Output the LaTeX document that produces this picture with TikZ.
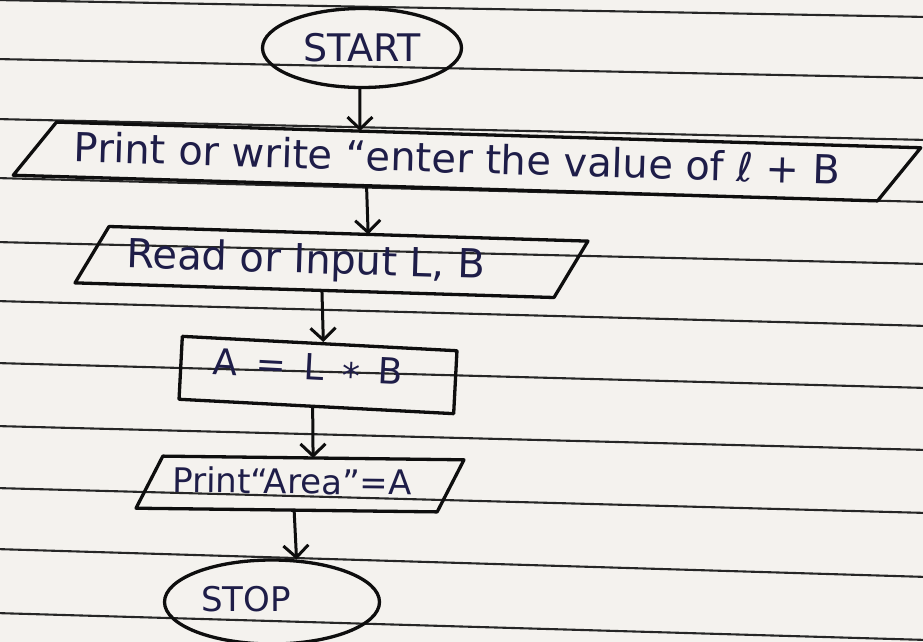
\documentclass[tikz,border=0pt]{standalone}
\usepackage{fontspec}
\setmainfont{DejaVu Sans}
\usetikzlibrary{calc,arrows.meta,shapes.geometric}

\definecolor{paper}{HTML}{F4F2EE}
\definecolor{rulecol}{HTML}{262626}
\definecolor{ink}{HTML}{0E0E0E}
\definecolor{pen}{HTML}{1E1D48}

\tikzset{
  ruling/.style={draw=rulecol, line width=2.1pt},
  outline/.style={draw=ink, line width=3.3pt, line join=round},
  terminal/.style={ellipse, outline, inner sep=0pt},
  process/.style={rectangle, outline, inner sep=0pt},
  iobox/.style={rectangle, inner sep=0pt},
  flow/.style={draw=ink, line width=3pt, line cap=round, -{Straight Barb[length=12pt,width=25pt]}},
  handtext/.style={text=pen, inner sep=0pt, font=\fontsize{#1}{#1}\selectfont},
}

% outline of an input/output box: the slant takes fraction #2 of the node width
\newcommand\slantbox[2]{%
  \draw[outline] ($(#1.north west)!#2!(#1.north east)$) -- (#1.north east)
    -- ($(#1.south east)!#2!(#1.south west)$) -- (#1.south west) -- cycle;}

\begin{document}
\begin{tikzpicture}[x=1pt,y=-1pt]
  \useasboundingbox (0,0) rectangle (923,642);
  \clip (0,0) rectangle (923,642);
  \fill[paper] (0,0) rectangle (923,642);

  % ruled notebook lines
  \foreach \yl/\yr in {0/17,59/78,119/140,178/202,242/264,301/326,363/388,426/450,488/513,549/577,613/640}
    \draw[ruling] (-5,\yl) -- (928,\yr);

  % shapes
  \node[terminal, minimum width=199pt, minimum height=79pt] (start) at (362,48) {};
  \node[iobox, minimum width=906pt, minimum height=54pt, rotate=-1.7] (p1) at (467,161.5) {};
  \node[iobox, minimum width=511pt, minimum height=57pt, rotate=-1.75] (p2) at (331.5,262) {};
  \node[process, minimum width=275pt, minimum height=63pt, rotate=-3] (calc) at (318,375) {};
  \node[iobox, minimum width=327pt, minimum height=52pt, rotate=-0.7] (p3) at (300,484) {};
  \node[terminal, minimum width=215pt, minimum height=84pt] (stop) at (272,602) {};

  \slantbox{p1}{0.046}
  \slantbox{p2}{0.063}
  \slantbox{p3}{0.08}

  % texts
  \node[handtext=38] (starttext) at (362,48) {START};
  \node[handtext=40, rotate=-1.7] (p1text) at (457,158) {Print or write “enter the value of ℓ + B};
  \node[handtext=40, rotate=-1.75] (p2text) at (306,262) {Read or Input L, B};
  \node[handtext=36, rotate=-3] (calctext) at (308,370)
    {A\hspace{18pt}=\hspace{18pt}L\hspace{18pt}\raisebox{-7pt}{*}\hspace{18pt}B};
  \node[handtext=34, rotate=-0.7] (p3text) at (292,481) {Print“Area”=A};
  \node[handtext=34] (stoptext) at (246,599) {STOP};

  % flow connectors
  \draw[flow] (start.267) -- ($(p1.north west)!0.381!(p1.north east)$);
  \draw[flow] ($(p1.south west)!0.39!(p1.south east)$) -- ($(p2.north west)!0.57!(p2.north east)$);
  \draw[flow] ($(p2.south west)!0.483!(p2.south east)$) -- ($(calc.north west)!0.513!(calc.north east)$);
  \draw[flow] ($(calc.south west)!0.487!(calc.south east)$) -- ($(p3.north west)!0.539!(p3.north east)$);
  \draw[flow] ($(p3.south west)!0.483!(p3.south east)$) -- (stop.60);
\end{tikzpicture}
\end{document}
